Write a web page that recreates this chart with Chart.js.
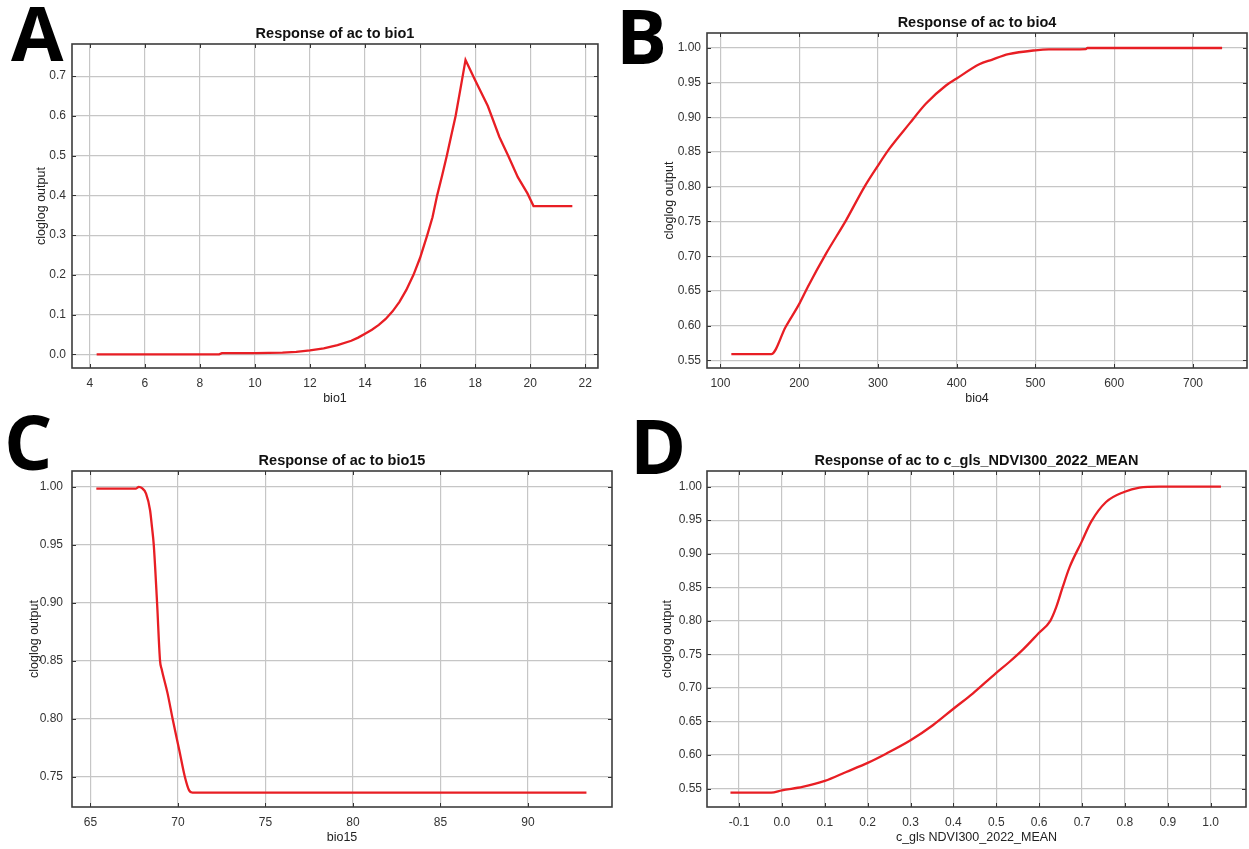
<!DOCTYPE html>
<html><head><meta charset="utf-8">
<script src="https://cdn.jsdelivr.net/npm/chart.js@4.4.1/dist/chart.umd.min.js"></script>
<style>
html,body{margin:0;padding:0;background:#fff;width:1249px;height:849px;overflow:hidden;position:relative}
canvas{position:absolute}
.lbl{position:absolute;font-family:'Open Sans',sans-serif;font-weight:700;font-size:76px;line-height:1;color:#000}
</style></head><body>
<div class="lbl" style="left:11px;top:-6px">A</div>
<div class="lbl" style="left:616px;top:-3px">B</div>
<div class="lbl" style="left:4px;top:403px">C</div>
<div class="lbl" style="left:630px;top:407px">D</div>
<canvas id="cA"></canvas><canvas id="cB"></canvas><canvas id="cC"></canvas><canvas id="cD"></canvas>
<script>
// ---- Panel A: bio1 ----
const titleA = 'Response of ac to bio1';
const xTitleA = 'bio1';
const xA = [4.25, 6, 8, 8.7, 8.8, 10, 11, 11.5, 12, 12.5, 13, 13.5, 13.75, 14, 14.25, 14.5, 14.75, 15, 15.25, 15.5, 15.76, 16, 16.26, 16.45, 16.62, 16.8, 16.97, 17.13, 17.29, 17.47, 17.65, 18.0, 18.46, 18.88, 19.2, 19.55, 19.9, 20.12, 21.53];
const yA = [0, 0, 0, 0, 0.003, 0.003, 0.004, 0.006, 0.01, 0.015, 0.023, 0.034, 0.042, 0.052, 0.062, 0.074, 0.089, 0.108, 0.132, 0.162, 0.2, 0.243, 0.3, 0.345, 0.4, 0.45, 0.5, 0.55, 0.6, 0.67, 0.741, 0.69, 0.625, 0.547, 0.5, 0.446, 0.405, 0.373, 0.373];
const xTicksA = [4, 6, 8, 10, 12, 14, 16, 18, 20, 22];
const xLabelsA = ['4', '6', '8', '10', '12', '14', '16', '18', '20', '22'];
const yTicksA = [0, 0.1, 0.2, 0.3, 0.4, 0.5, 0.6, 0.7];
const yLabelsA = ['0.0', '0.1', '0.2', '0.3', '0.4', '0.5', '0.6', '0.7'];

// ---- Panel B: bio4 ----
const titleB = 'Response of ac to bio4';
const xTitleB = 'bio4';
const xB = [113.9, 164.6, 182.8, 200.5, 211.1, 234.3, 259.7, 282.9, 300.3, 314.6, 340, 361.1, 386.4, 400, 428.7, 444.5, 465.8, 500, 517, 564, 566, 737];
const yB = [0.559, 0.559, 0.598, 0.632, 0.656, 0.704, 0.752, 0.800, 0.831, 0.855, 0.891, 0.920, 0.946, 0.956, 0.9765, 0.983, 0.991, 0.9967, 0.998, 0.9985, 1.0, 1.0];
const xTicksB = [100, 200, 300, 400, 500, 600, 700];
const xLabelsB = ['100', '200', '300', '400', '500', '600', '700'];
const yTicksB = [0.55, 0.60, 0.65, 0.70, 0.75, 0.80, 0.85, 0.90, 0.95, 1.00];
const yLabelsB = ['0.55', '0.60', '0.65', '0.70', '0.75', '0.80', '0.85', '0.90', '0.95', '1.00'];

// ---- Panel C: bio15 ----
const titleC = 'Response of ac to bio15';
const xTitleC = 'bio15';
const xC = [65.34, 67.61, 67.77, 67.95, 68.18, 68.41, 68.52, 68.62, 68.81, 68.98, 69.07, 69.41, 69.70, 70.08, 70.40, 70.64, 70.83, 93.34];
const yC = [0.9983, 0.9983, 0.9997, 0.9986, 0.994, 0.9796, 0.965, 0.95, 0.90, 0.85, 0.843, 0.822, 0.80, 0.773, 0.75, 0.7385, 0.7365, 0.7365];
const xTicksC = [65, 70, 75, 80, 85, 90];
const xLabelsC = ['65', '70', '75', '80', '85', '90'];
const yTicksC = [0.75, 0.80, 0.85, 0.90, 0.95, 1.00];
const yLabelsC = ['0.75', '0.80', '0.85', '0.90', '0.95', '1.00'];

// ---- Panel D: c_gls_NDVI300_2022_MEAN ----
const titleD = 'Response of ac to c_gls_NDVI300_2022_MEAN';
const xTitleD = 'c_gls NDVI300_2022_MEAN';
const xD = [-0.12, -0.025, 0.0, 0.048, 0.1, 0.15, 0.2, 0.243, 0.3, 0.352, 0.4, 0.445, 0.498, 0.531, 0.562, 0.598, 0.626, 0.64, 0.655, 0.671, 0.699, 0.721, 0.756, 0.798, 0.834, 0.881, 1.024];
const yD = [0.544, 0.544, 0.5475, 0.5525, 0.5614, 0.5748, 0.5883, 0.602, 0.622, 0.6444, 0.669, 0.6916, 0.7214, 0.739, 0.757, 0.781, 0.80, 0.8207, 0.8505, 0.880, 0.9176, 0.9474, 0.977, 0.992, 0.9985, 1.0, 1.0];
const xTicksD = [-0.1, 0, 0.1, 0.2, 0.3, 0.4, 0.5, 0.6, 0.7, 0.8, 0.9, 1.0];
const xLabelsD = ['-0.1', '0.0', '0.1', '0.2', '0.3', '0.4', '0.5', '0.6', '0.7', '0.8', '0.9', '1.0'];
const yTicksD = [0.55, 0.60, 0.65, 0.70, 0.75, 0.80, 0.85, 0.90, 0.95, 1.00];
const yLabelsD = ['0.55', '0.60', '0.65', '0.70', '0.75', '0.80', '0.85', '0.90', '0.95', '1.00'];

const yTitle = 'cloglog output';

const panels = [
  {id:'cA', title:titleA, xt:xTitleA, x:xA, y:yA, xT:xTicksA, xL:xLabelsA, yT:yTicksA, yL:yLabelsA,
   rect:{l:72,t:44,r:598,b:368}, xr:[3.355,22.46], yr:[-0.0345,0.781], yW:38, yPad:6, smooth:false},
  {id:'cB', title:titleB, xt:xTitleB, x:xB, y:yB, xT:xTicksB, xL:xLabelsB, yT:yTicksB, yL:yLabelsB,
   rect:{l:707,t:33,r:1247,b:368}, xr:[83.0,768.6], yr:[0.5389,1.0216], yW:45, yPad:6, smooth:true},
  {id:'cC', title:titleC, xt:xTitleC, x:xC, y:yC, xT:xTicksC, xL:xLabelsC, yT:yTicksC, yL:yLabelsC,
   rect:{l:72,t:471,r:612,b:807}, xr:[63.95,94.8], yr:[0.7242,1.0134], yW:45, yPad:9, smooth:true},
  {id:'cD', title:titleD, xt:xTitleD, x:xD, y:yD, xT:xTicksD, xL:xLabelsD, yT:yTicksD, yL:yLabelsD,
   rect:{l:707,t:471,r:1246,b:807}, xr:[-0.1747,1.0824], yr:[0.5226,1.0232], yW:47, yPad:5, smooth:true}
];

const PAD_TOP = 30, PAD_RIGHT = 2, X_H = 38;
const FONT = "'Liberation Sans', Arial, sans-serif";
const TICK_FONT = { family: FONT, size: 12 };

const framePlugin = {
  id: 'frame',
  afterDraw(chart, args, opts) {
    const {ctx, chartArea: a, scales} = chart;
    ctx.save();
    ctx.strokeStyle = '#333';
    ctx.lineWidth = 1;
    const L = 4;
    ctx.beginPath();
    scales.x.ticks.forEach(t => {
      const px = Math.round(scales.x.getPixelForValue(t.value)) + 0.5;
      ctx.moveTo(px, a.bottom); ctx.lineTo(px, a.bottom - L);
      ctx.moveTo(px, a.top); ctx.lineTo(px, a.top + L);
    });
    scales.y.ticks.forEach(t => {
      const py = Math.round(scales.y.getPixelForValue(t.value)) + 0.5;
      ctx.moveTo(a.left, py); ctx.lineTo(a.left + L, py);
      ctx.moveTo(a.right, py); ctx.lineTo(a.right - L, py);
    });
    ctx.stroke();
    ctx.strokeStyle = '#3c3c3c';
    ctx.lineWidth = 1.6;
    ctx.strokeRect(a.left, a.top, a.right - a.left, a.bottom - a.top);
    ctx.fillStyle = '#111';
    ctx.font = "bold 14.5px " + FONT;
    ctx.textAlign = 'center';
    ctx.textBaseline = 'middle';
    ctx.fillText(opts.text, (a.left + a.right) / 2, a.top - 10.5);
    ctx.restore();
  }
};

panels.forEach(p => {
  const cv = document.getElementById(p.id);
  const W = (p.rect.r - p.rect.l) + p.yW + PAD_RIGHT;
  const H = (p.rect.b - p.rect.t) + PAD_TOP + X_H;
  cv.width = W; cv.height = H;
  cv.style.width = W + 'px'; cv.style.height = H + 'px';
  cv.style.left = (p.rect.l - p.yW) + 'px';
  cv.style.top = (p.rect.t - PAD_TOP) + 'px';
  new Chart(cv, {
    type: 'scatter',
    data: { datasets: [{
      data: p.x.map((v, i) => ({x: v, y: p.y[i]})),
      showLine: true, borderColor: 'rgb(232,30,36)', borderWidth: 2.3,
      pointRadius: 0, pointHoverRadius: 0, fill: false,
      cubicInterpolationMode: p.smooth ? 'monotone' : 'default', tension: 0
    }]},
    options: {
      responsive: false, animation: false, devicePixelRatio: 1,
      events: [],
      layout: { padding: { top: PAD_TOP, right: PAD_RIGHT, left: 0, bottom: 0 } },
      plugins: { legend: { display: false }, tooltip: { enabled: false }, title: { display: false },
                 frame: { text: p.title } },
      scales: {
        x: {
          type: 'linear', min: p.xr[0], max: p.xr[1],
          afterBuildTicks: s => { s.ticks = p.xT.map(v => ({value: v})); },
          afterFit: s => { s.height = X_H; },
          grid: { color: '#c6c6c6', lineWidth: 1.2, drawTicks: false },
          border: { display: false },
          ticks: { padding: 8, color: '#333', font: TICK_FONT,
                   maxRotation: 0, autoSkip: false,
                   callback: (v, i) => p.xL[i] },
          title: { display: true, text: p.xt, color: '#222', font: { family: FONT, size: 12.5 }, padding: 0 }
        },
        y: {
          type: 'linear', min: p.yr[0], max: p.yr[1],
          afterBuildTicks: s => { s.ticks = p.yT.map(v => ({value: v})); },
          afterFit: s => { s.width = p.yW; },
          grid: { color: '#c6c6c6', lineWidth: 1.2, drawTicks: false },
          border: { display: false },
          ticks: { padding: p.yPad, color: '#333', font: TICK_FONT, autoSkip: false,
                   callback: (v, i) => p.yL[i] },
          title: { display: true, text: yTitle, color: '#222', font: { family: FONT, size: 12.5 }, padding: 0 }
        }
      }
    },
    plugins: [framePlugin]
  });
});
</script>
</body></html>
